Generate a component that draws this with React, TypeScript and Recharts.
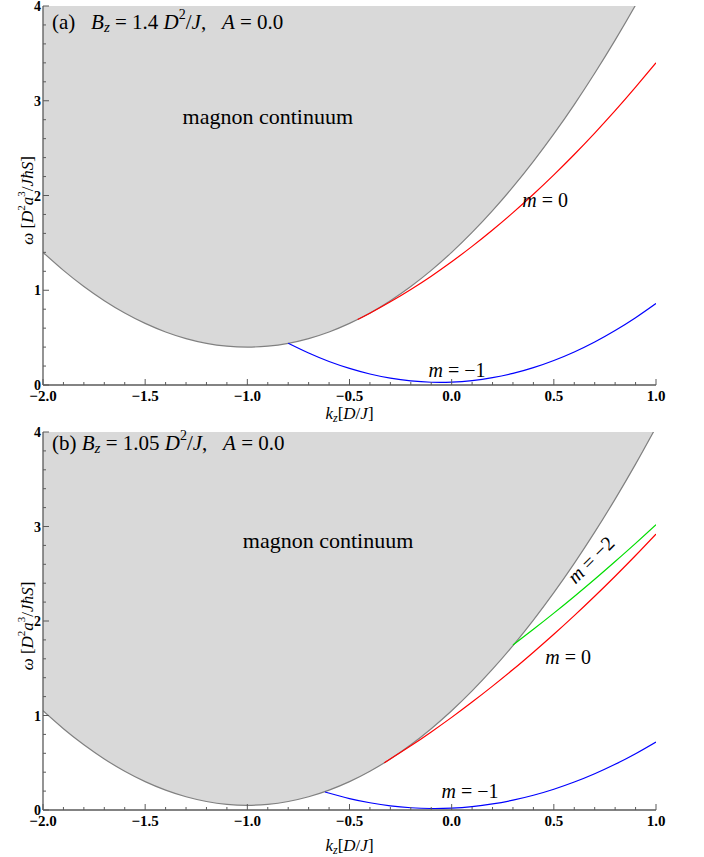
import React from 'react';
import { ComposedChart, Area, Line, XAxis, YAxis, ReferenceDot } from 'recharts';

// ---------- data ----------
const K_GRID = [-2.0, -1.9, -1.8, -1.7, -1.6, -1.5, -1.4, -1.3, -1.2, -1.1, -1.0, -0.9, -0.8, -0.7, -0.6, -0.5, -0.4, -0.3, -0.2, -0.1, 0.0, 0.1, 0.2, 0.3, 0.4, 0.5, 0.6, 0.7, 0.8, 0.9, 1.0];
// lower edge of the magnon continuum
const CONT_A = [1.40, 1.21, 1.04, 0.89, 0.76, 0.65, 0.56, 0.49, 0.44, 0.41, 0.40, 0.41, 0.44, 0.49, 0.56, 0.65, 0.76, 0.89, 1.04, 1.21, 1.40, 1.61, 1.84, 2.09, 2.36, 2.65, 2.96, 3.29, 3.64, 4.01, 4.40];
const CONT_B = [1.05, 0.86, 0.69, 0.54, 0.41, 0.30, 0.21, 0.14, 0.09, 0.06, 0.05, 0.06, 0.09, 0.14, 0.21, 0.30, 0.41, 0.54, 0.69, 0.86, 1.05, 1.26, 1.49, 1.74, 2.01, 2.30, 2.61, 2.94, 3.29, 3.66, 4.05];

// panel (a)
const RED_A_K = [-0.46, -0.4, -0.3, -0.2, -0.1, 0.0, 0.1, 0.2, 0.3, 0.4, 0.5, 0.6, 0.7, 0.8, 0.9, 1.0];
const RED_A_W = [0.692, 0.758, 0.878, 1.008, 1.149, 1.301, 1.463, 1.636, 1.819, 2.013, 2.218, 2.433, 2.659, 2.895, 3.143, 3.400];
const BLUE_A_K = [-0.8, -0.7, -0.6, -0.5, -0.4, -0.3, -0.2, -0.1, 0.0, 0.1, 0.2, 0.3, 0.4, 0.5, 0.6, 0.7, 0.8, 0.9, 1.0];
const BLUE_A_W = [0.440, 0.337, 0.248, 0.175, 0.116, 0.072, 0.043, 0.029, 0.030, 0.046, 0.077, 0.122, 0.183, 0.259, 0.349, 0.454, 0.575, 0.710, 0.860];

// panel (b)
const RED_B_K = [-0.33, -0.2, -0.1, 0.0, 0.1, 0.2, 0.3, 0.4, 0.5, 0.6, 0.7, 0.8, 0.9, 1.0];
const RED_B_W = [0.499, 0.679, 0.826, 0.980, 1.142, 1.311, 1.486, 1.670, 1.860, 2.057, 2.262, 2.474, 2.693, 2.920];
const GREEN_B_K = [0.30, 0.4, 0.5, 0.6, 0.7, 0.8, 0.9, 1.0];
const GREEN_B_W = [1.745, 1.912, 2.083, 2.260, 2.442, 2.630, 2.822, 3.020];
const BLUE_B_K = [-0.62, -0.5, -0.4, -0.3, -0.2, -0.1, 0.0, 0.1, 0.2, 0.3, 0.4, 0.5, 0.6, 0.7, 0.8, 0.9, 1.0];
const BLUE_B_W = [0.190, 0.121, 0.077, 0.044, 0.024, 0.016, 0.020, 0.036, 0.064, 0.104, 0.156, 0.220, 0.296, 0.384, 0.484, 0.596, 0.720];

// ticks
const X_TICKS = [-2.0, -1.9, -1.8, -1.7, -1.6, -1.5, -1.4, -1.3, -1.2, -1.1, -1.0, -0.9, -0.8, -0.7, -0.6, -0.5, -0.4, -0.3, -0.2, -0.1, 0.0, 0.1, 0.2, 0.3, 0.4, 0.5, 0.6, 0.7, 0.8, 0.9, 1.0];
const X_MAJOR = [-2.0, -1.5, -1.0, -0.5, 0.0, 0.5, 1.0];
const Y_TICKS = [0, 0.2, 0.4, 0.6, 0.8, 1, 1.2, 1.4, 1.6, 1.8, 2, 2.2, 2.4, 2.6, 2.8, 3, 3.2, 3.4, 3.6, 3.8, 4];
const Y_MAJOR = [0, 1, 2, 3, 4];
const X_DOMAIN = [-2, 1];
const Y_DOMAIN = [0, 4];

// annotations (data coordinates)
const TITLE_A = { k: -1.956, w: 3.83, tag: '(a)   ', bz: '1.4' };
const TITLE_B = { k: -1.956, w: 3.88, tag: '(b) ', bz: '1.05' };
const CONT_LABEL_A = { k: -0.9, w: 2.83 };
const CONT_LABEL_B = { k: -0.605, w: 2.85 };
const M_LABELS_A = [
  { m: '0', k: 0.457, w: 1.95, rot: 0 },
  { m: '\u22121', k: 0.026, w: 0.16, rot: 0 },
];
const M_LABELS_B = [
  { m: '0', k: 0.57, w: 1.62, rot: 0 },
  { m: '\u22121', k: 0.09, w: 0.2, rot: 0 },
  { m: '\u22122', k: 0.68, w: 2.65, rot: -45 },
];

// ---------- styling ----------
const FONT = '"Liberation Serif", "Times New Roman", serif';
const FRAME = '#5a5a5a';
const GRAY_FILL = '#d9d9d9';
const EDGE = '#808080';
const RED = '#ff0000';
const BLUE = '#0000ff';
const GREEN = '#00dd00';
const MAJ = 6;
const MIN = 3;

const near = (v: number, list: number[]) => list.some((m) => Math.abs(m - v) < 1e-9);
const fmt = (v: number, d: number) => {
  const s = Math.abs(v).toFixed(d);
  return v < -1e-9 ? '\u2212' + s : s;
};

const XTickBottom = (p: any) => {
  const { x, y, payload } = p;
  const v = payload.value;
  const major = near(v, X_MAJOR);
  return (
    <g>
      <line x1={x} x2={x} y1={y} y2={y - (major ? MAJ : MIN)} stroke={FRAME} strokeWidth={1} />
      {major && (
        <text x={x} y={y + 16} textAnchor="middle" fontFamily={FONT} fontWeight="bold" fontSize={15} fill="#000">
          {fmt(v, 1)}
        </text>
      )}
    </g>
  );
};
const XTickTop = (p: any) => {
  const { x, y, payload } = p;
  const major = near(payload.value, X_MAJOR);
  return <line x1={x} x2={x} y1={y} y2={y + (major ? MAJ : MIN)} stroke={FRAME} strokeWidth={1} />;
};
const YTickLeft = (p: any) => {
  const { x, y, payload } = p;
  const v = payload.value;
  const major = near(v, Y_MAJOR);
  return (
    <g>
      <line x1={x} x2={x + (major ? MAJ : MIN)} y1={y} y2={y} stroke={FRAME} strokeWidth={1} />
      {major && (
        <text x={x - 2} y={y + 5} textAnchor="end" fontFamily={FONT} fontWeight="bold" fontSize={14} fill="#000">
          {String(v)}
        </text>
      )}
    </g>
  );
};
const YTickRight = (p: any) => {
  const { x, y, payload } = p;
  const major = near(payload.value, Y_MAJOR);
  return <line x1={x} x2={x - (major ? MAJ : MIN)} y1={y} y2={y} stroke={FRAME} strokeWidth={1} />;
};

const makeXLabel = (offset: number) => (props: any) => {
  const vb = props.viewBox || { x: 43, y: 385, width: 613, height: 40 };
  const cx = vb.x + vb.width / 2;
  const cy = vb.y + offset;
  return (
    <text x={cx} y={cy} textAnchor="middle" fontFamily={FONT} fontSize={17} fill="#000">
      <tspan fontStyle="italic">k</tspan>
      <tspan fontStyle="italic" fontSize={12} dy={3}>z</tspan>
      <tspan dy={-3}>[</tspan>
      <tspan fontStyle="italic">D</tspan>
      <tspan>/</tspan>
      <tspan fontStyle="italic">J</tspan>
      <tspan>]</tspan>
    </text>
  );
};

const YLabel = (props: any) => {
  const vb = props.viewBox || { x: 0, y: 6, width: 43, height: 379 };
  const cx = 27;
  const cy = vb.y + vb.height / 2 + 5;
  return (
    <text
      x={cx}
      y={cy}
      transform={`rotate(-90 ${cx} ${cy})`}
      textAnchor="middle"
      dominantBaseline="central"
      fontFamily={FONT}
      fontSize={17}
      fill="#000"
      style={{ whiteSpace: 'pre' }}
    >
      <tspan fontStyle="italic">ω</tspan>
      <tspan> [</tspan>
      <tspan fontStyle="italic">D</tspan>
      <tspan fontSize={11} dy={-6}>2</tspan>
      <tspan fontStyle="italic" dy={6}>a</tspan>
      <tspan fontSize={11} dy={-6}>3</tspan>
      <tspan dy={6}>/</tspan>
      <tspan fontStyle="italic">JħS</tspan>
      <tspan>]</tspan>
    </text>
  );
};

const pts = (ks: number[], ws: number[]) => ks.map((k, i) => ({ k, w: ws[i] }));

type Series = { name: string; data: { k: number; w: number }[]; color: string };

function Panel(props: {
  height: number;
  top: number;
  xAxisH: number;
  xLabelOffset: number;
  cont: number[];
  series: Series[];
  title: { k: number; w: number; tag: string; bz: string };
  contLabel: { k: number; w: number };
  mLabels: { m: string; k: number; w: number; rot: number }[];
}) {
  const { height, top, xAxisH, xLabelOffset, cont, series, title, contLabel, mLabels } = props;
  const band = K_GRID.map((k, i) => ({ k, band: [cont[i], Y_DOMAIN[1]], edge: cont[i] }));
  const axisLine = { stroke: FRAME, strokeWidth: 1.3 };
  return (
    <ComposedChart width={704} height={height} margin={{ top, right: 48, bottom: 0, left: 0 }} data={band}>
      <Area
        xAxisId="b"
        yAxisId="l"
        dataKey="band"
        type="natural"
        fill={GRAY_FILL}
        fillOpacity={1}
        stroke="none"
        isAnimationActive={false}
      />
      <Line
        xAxisId="b"
        yAxisId="l"
        dataKey="edge"
        type="natural"
        stroke={EDGE}
        strokeWidth={1.2}
        dot={false}
        activeDot={false}
        isAnimationActive={false}
      />
      {series.map((s) => (
        <Line
          key={s.name}
          xAxisId="b"
          yAxisId="l"
          data={s.data}
          dataKey="w"
          type="natural"
          stroke={s.color}
          strokeWidth={1.2}
          dot={false}
          activeDot={false}
          isAnimationActive={false}
        />
      ))}
      <ReferenceDot
        xAxisId="b"
        yAxisId="l"
        x={title.k}
        y={title.w}
        r={0}
        shape={(p: any) => (
          <text
            x={p.cx}
            y={p.cy}
            dominantBaseline="central"
            fontFamily={FONT}
            fontSize={21}
            fill="#000"
            style={{ whiteSpace: 'pre' }}
          >
            <tspan>{title.tag}</tspan>
            <tspan fontStyle="italic">B</tspan>
            <tspan fontStyle="italic" fontSize={15} dy={5}>z</tspan>
            <tspan dy={-5}>{' = ' + title.bz + ' '}</tspan>
            <tspan fontStyle="italic">D</tspan>
            <tspan fontSize={14} dy={-8}>2</tspan>
            <tspan dy={8}>/</tspan>
            <tspan fontStyle="italic">J</tspan>
            <tspan>{',   '}</tspan>
            <tspan fontStyle="italic">A</tspan>
            <tspan>{' = 0.0'}</tspan>
          </text>
        )}
      />
      <ReferenceDot
        xAxisId="b"
        yAxisId="l"
        x={contLabel.k}
        y={contLabel.w}
        r={0}
        shape={(p: any) => (
          <text x={p.cx} y={p.cy} textAnchor="middle" dominantBaseline="central" fontFamily={FONT} fontSize={22} fill="#000">
            magnon continuum
          </text>
        )}
      />
      {mLabels.map((l) => (
        <ReferenceDot
          key={l.m}
          xAxisId="b"
          yAxisId="l"
          x={l.k}
          y={l.w}
          r={0}
          shape={(p: any) => (
            <text
              x={p.cx}
              y={p.cy}
              transform={l.rot ? `rotate(${l.rot} ${p.cx} ${p.cy})` : undefined}
              textAnchor="middle"
              dominantBaseline="central"
              fontFamily={FONT}
              fontSize={20}
              fill="#000"
              style={{ whiteSpace: 'pre' }}
            >
              <tspan fontStyle="italic">m</tspan>
              <tspan>{' = ' + l.m}</tspan>
            </text>
          )}
        />
      ))}
      <XAxis
        xAxisId="b"
        dataKey="k"
        type="number"
        domain={X_DOMAIN}
        ticks={X_TICKS}
        interval={0}
        allowDataOverflow
        tick={XTickBottom}
        tickSize={0}
        tickMargin={0}
        tickLine={false}
        axisLine={axisLine}
        height={xAxisH}
        label={{ content: makeXLabel(xLabelOffset) }}
      />
      <XAxis
        xAxisId="t"
        orientation="top"
        dataKey="k"
        type="number"
        domain={X_DOMAIN}
        ticks={X_TICKS}
        interval={0}
        allowDataOverflow
        tick={XTickTop}
        tickSize={0}
        tickMargin={0}
        tickLine={false}
        axisLine={axisLine}
        height={0}
      />
      <YAxis
        yAxisId="l"
        type="number"
        domain={Y_DOMAIN}
        ticks={Y_TICKS}
        interval={0}
        allowDataOverflow
        tick={YTickLeft}
        tickSize={0}
        tickMargin={0}
        tickLine={false}
        axisLine={axisLine}
        width={43}
        label={{ content: YLabel }}
      />
      <YAxis
        yAxisId="r"
        orientation="right"
        type="number"
        domain={Y_DOMAIN}
        ticks={Y_TICKS}
        interval={0}
        allowDataOverflow
        tick={YTickRight}
        tickSize={0}
        tickMargin={0}
        tickLine={false}
        axisLine={axisLine}
        width={0}
      />
    </ComposedChart>
  );
}

export default function App() {
  const seriesA: Series[] = [
    { name: 'm0', data: pts(RED_A_K, RED_A_W), color: RED },
    { name: 'm-1', data: pts(BLUE_A_K, BLUE_A_W), color: BLUE },
  ];
  const seriesB: Series[] = [
    { name: 'm0', data: pts(RED_B_K, RED_B_W), color: RED },
    { name: 'm-2', data: pts(GREEN_B_K, GREEN_B_W), color: GREEN },
    { name: 'm-1', data: pts(BLUE_B_K, BLUE_B_W), color: BLUE },
  ];
  return (
    <div style={{ position: 'absolute', left: 0, top: 0, width: 704, height: 857, background: '#fff' }}>
      <Panel
        height={425}
        top={6}
        xAxisH={40}
        xLabelOffset={34}
        cont={CONT_A}
        series={seriesA}
        title={TITLE_A}
        contLabel={CONT_LABEL_A}
        mLabels={M_LABELS_A}
      />
      <Panel
        height={432}
        top={7}
        xAxisH={47}
        xLabelOffset={41}
        cont={CONT_B}
        series={seriesB}
        title={TITLE_B}
        contLabel={CONT_LABEL_B}
        mLabels={M_LABELS_B}
      />
    </div>
  );
}
